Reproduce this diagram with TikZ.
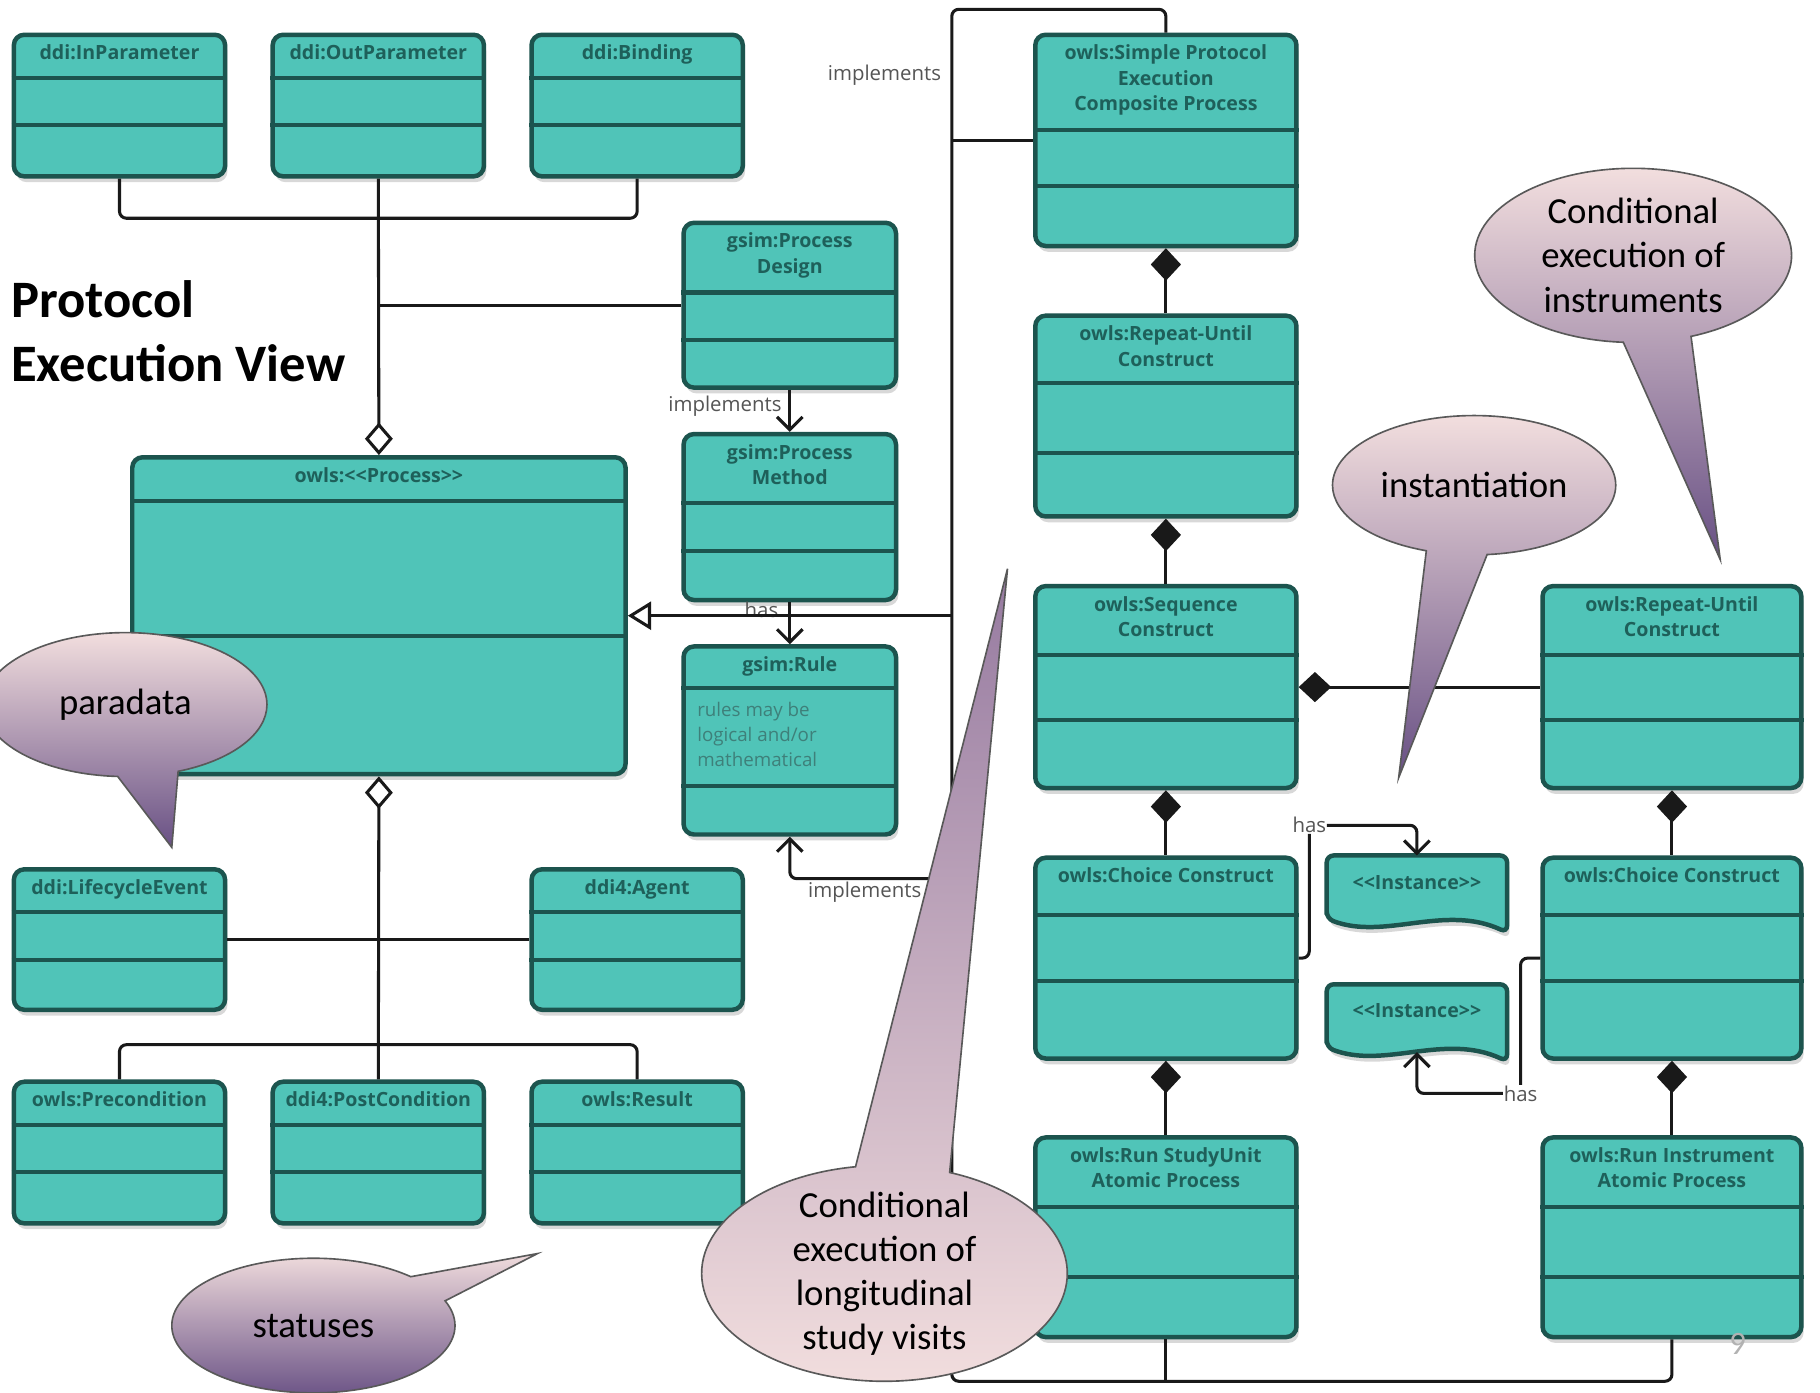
\documentclass[tikz,border=0pt]{standalone}
\usepackage{fontspec}
\setmainfont{Carlito}
\newfontfamily\umlfont{Open Sans}
\usetikzlibrary{arrows.meta,calc,positioning,shadows,shapes.callouts}

\definecolor{umlfill}{RGB}{80,196,184}
\definecolor{umlborder}{RGB}{28,84,78}
\definecolor{umltext}{RGB}{30,96,90}
\definecolor{umlnote}{RGB}{62,128,122}
\definecolor{connblack}{RGB}{25,25,25}
\definecolor{labelgray}{RGB}{85,85,85}
\definecolor{bubblepink}{RGB}{242,222,222}
\definecolor{bubblepurple}{RGB}{104,80,132}
\definecolor{bubblemauve}{RGB}{150,122,160}

\tikzset{
	classnode/.style={draw=umlborder,fill=umlfill,line width=1.1pt,rounded corners=0.09cm,inner sep=0pt,
		drop shadow={opacity=0.3,shadow xshift=0.02cm,shadow yshift=-0.05cm}},
	classsep/.style={draw=umlborder,line width=1pt},
	classtitle/.style={font=\umlfont\bfseries\fontsize{4.8}{6.2}\selectfont,text=umltext,align=center,inner sep=0pt},
	ruletext/.style={font=\umlfont\fontsize{4.6}{6.2}\selectfont,text=umlnote,align=left,inner sep=0pt},
	instnode/.style={minimum width=1.54cm,minimum height=0.65cm,inner sep=0pt},
	instshape/.style={draw=umlborder,fill=umlfill,line width=1.1pt,rounded corners=0.06cm,
		drop shadow={opacity=0.3,shadow xshift=0.02cm,shadow yshift=-0.05cm}},
	conn/.style={draw=connblack,line width=0.75pt,rounded corners=0.06cm},
	compose/.style={conn,{Diamond[length=0.28cm,width=0.26cm]}-},
	aggregate/.style={conn,{Diamond[fill=white,length=0.28cm,width=0.24cm]}-},
	implarrow/.style={conn,-{Straight Barb[length=0.11cm,width=0.22cm]}},
	inherit/.style={conn,-{Triangle[open,fill=white,length=0.2cm,width=0.24cm]}},
	connlabel/.style={font=\umlfont\fontsize{5}{6}\selectfont,text=labelgray,inner sep=0pt},
	bubble/.style={ellipse callout,draw=gray!70!black,line width=0.4pt,inner sep=0pt,callout pointer arc=25,
		top color=bubblepink,bottom color=bubblepurple},
	bubbletext/.style={font=\fontsize{9}{10.8}\selectfont,align=center,text=black,inner sep=0pt},
	viewtitle/.style={font=\bfseries\fontsize{12.9}{15.6}\selectfont,align=left,inner sep=0pt},
	pagenum/.style={font=\fontsize{8}{9}\selectfont,text=black!30,inner sep=0pt}
}

% name, x, y (north west), width, height, separators, title
\newcommand{\classbox}[8]{%
	\node[classnode,minimum width=#4cm,minimum height=#5cm,anchor=north west] (#1) at (#2,#3) {};
	\draw[classsep] ([yshift=-#6cm]#1.north west) -- ([yshift=-#6cm]#1.north east);
	\draw[classsep] ([yshift=-#7cm]#1.north west) -- ([yshift=-#7cm]#1.north east);
	\node[classtitle,anchor=north] (#1-t) at ([yshift=-0.10cm]#1.north) {#8};
}

% name, x, y (north west)
\newcommand{\instbox}[3]{%
	\node[instnode,anchor=north west] (#1) at (#2,#3) {};
	\draw[instshape] ([yshift=0.12cm]#1.south west) -- (#1.north west) -- (#1.north east) -- (#1.south east)
		.. controls ($(#1.south east)+(-0.54,0.25)$) and ($(#1.south west)+(0.5,-0.07)$) .. ([yshift=0.12cm]#1.south west) -- cycle;
	\node[classtitle] (#1-t) at ([yshift=-0.23cm]#1.north) {<{}<Instance>{}>};
}

\begin{document}
\begin{tikzpicture}
	\fill[white] (0,0) rectangle (15.68,-12);
	\useasboundingbox (0,0) rectangle (15.68,-12);

	% left part
	\classbox{inparam}{0.10}{-0.28}{1.82}{1.22}{0.39}{0.80}{ddi:InParameter}
	\classbox{outparam}{2.33}{-0.28}{1.82}{1.22}{0.39}{0.80}{ddi:OutParameter}
	\classbox{binding}{4.56}{-0.28}{1.82}{1.22}{0.39}{0.80}{ddi:Binding}
	\classbox{design}{5.87}{-1.90}{1.83}{1.42}{0.62}{1.03}{gsim:Process\\Design}
	\classbox{method}{5.87}{-3.72}{1.83}{1.43}{0.61}{1.03}{gsim:Process\\Method}
	\classbox{rule}{5.87}{-5.55}{1.83}{1.62}{0.38}{1.22}{gsim:Rule}
	\node[ruletext,anchor=north west] (rule-body) at ([xshift=0.13cm,yshift=-0.49cm]rule.north west) {rules may be\\logical and/or\\mathematical};
	\classbox{process}{1.12}{-3.92}{4.25}{2.73}{0.40}{1.56}{owls:<{}<Process>{}>}
	\classbox{lifecycle}{0.10}{-7.47}{1.82}{1.21}{0.39}{0.80}{ddi:LifecycleEvent}
	\classbox{agent}{4.56}{-7.47}{1.82}{1.21}{0.39}{0.80}{ddi4:Agent}
	\classbox{precond}{0.10}{-9.30}{1.82}{1.22}{0.39}{0.80}{owls:Precondition}
	\classbox{postcond}{2.33}{-9.30}{1.82}{1.22}{0.39}{0.80}{ddi4:PostCondition}
	\classbox{result}{4.56}{-9.30}{1.82}{1.22}{0.39}{0.80}{owls:Result}

	% right part
	\classbox{simple}{8.90}{-0.28}{2.25}{1.82}{0.84}{1.32}{owls:Simple Protocol\\Execution\\Composite Process}
	\classbox{repeata}{8.90}{-2.70}{2.25}{1.73}{0.60}{1.20}{owls:Repeat-Until\\Construct}
	\classbox{seq}{8.90}{-5.03}{2.25}{1.74}{0.61}{1.17}{owls:Sequence\\Construct}
	\classbox{choicea}{8.90}{-7.37}{2.25}{1.73}{0.51}{1.08}{owls:Choice Construct}
	\classbox{runstudy}{8.90}{-9.78}{2.25}{1.72}{0.62}{1.22}{owls:Run StudyUnit\\Atomic Process}
	\classbox{repeatb}{13.27}{-5.03}{2.23}{1.74}{0.61}{1.17}{owls:Repeat-Until\\Construct}
	\classbox{choiceb}{13.27}{-7.37}{2.23}{1.73}{0.51}{1.08}{owls:Choice Construct}
	\classbox{runinstr}{13.27}{-9.78}{2.23}{1.72}{0.62}{1.22}{owls:Run Instrument\\Atomic Process}
	\instbox{insta}{11.43}{-7.37}
	\instbox{instb}{11.43}{-8.48}

	\node[viewtitle,anchor=north west] (viewtitle) at (0.09,-2.41) {Protocol\\Execution View};

	% labels
	\node[connlabel] (impl-top) at (7.62,-0.65) {implements};
	\node[connlabel,anchor=east] (impl-design) at (6.74,-3.50) {implements};
	\node[connlabel] (has-rule) at (6.56,-5.25) {has};
	\node[connlabel] (impl-rule) at (7.45,-7.69) {implements};
	\node[connlabel] (has-insta) at (11.28,-7.11) {has};
	\node[connlabel] (has-instb) at (13.10,-9.42) {has};

	% connectors, left
	\coordinate (top-bus) at (3.24,-1.88);
	\coordinate (bot-bus) at (3.24,-9.00);
	\draw[conn] (inparam.south) |- (top-bus) -| (binding.south);
	\draw[aggregate] (process.north) -- (outparam.south);
	\draw[conn] (design.west) -- (design.west -| outparam.south);
	\draw[implarrow] (design.south) -- (method.north);
	\draw[implarrow] (method.south) -- (rule.north);
	\draw[aggregate] (process.south) -- (postcond.north);
	\draw[conn] (lifecycle.east) -- (agent.west);
	\draw[conn] (precond.north) |- (bot-bus) -| (result.north);

	% spine
	\coordinate (spine-top) at (8.20,-0.08);
	\coordinate (spine-bot) at (8.20,-11.90);
	\coordinate (impl-rule-c) at (8.20,-7.57);
	\draw[conn] (simple.north) |- (spine-top) -- (spine-bot) -| (runinstr.south);
	\draw[conn] (runstudy.south) -- (runstudy.south |- spine-bot);
	\draw[conn] (simple.west) -- (simple.west -| spine-top);
	\draw[inherit] (process.east -| spine-top) -- (process.east);
	\draw[implarrow] (impl-rule-c) -| (rule.south);

	% connectors, right
	\draw[compose] (simple.south) -- (repeata.north);
	\draw[compose] (repeata.south) -- (seq.north);
	\draw[compose] (seq.south) -- (choicea.north);
	\draw[compose] (choicea.south) -- (runstudy.north);
	\draw[compose] (seq.east) -- (repeatb.west);
	\draw[compose] (repeatb.south) -- (choiceb.north);
	\draw[compose] (choiceb.south) -- (runinstr.north);
	\draw[conn] (choicea.east) -| (has-insta.south);
	\draw[implarrow] (has-insta.east) -| (insta.north);
	\draw[conn] (choiceb.west) -| (has-instb.north);
	\draw[implarrow] (has-instb.west) -| ([yshift=0.08cm]instb.south);

	% callouts
	\node[bubble,minimum width=2.44cm,minimum height=1.24cm,callout absolute pointer={(1.48,-7.30)},
		label={[bubbletext]center:paradata}] (paradata) at (1.08,-6.07) {};
	\node[bubble,minimum width=2.44cm,minimum height=1.16cm,callout absolute pointer={(4.63,-10.80)},
		label={[bubbletext]center:statuses}] (statuses) at (2.70,-11.42) {};
	\node[bubble,minimum width=3.15cm,minimum height=1.86cm,callout pointer arc=30,callout absolute pointer={(8.68,-4.90)},
		top color=bubblemauve,bottom color=bubblepink,
		label={[bubbletext]center:Conditional\\execution of\\longitudinal\\study visits}] (visits) at (7.62,-10.97) {};
	\node[bubble,minimum width=2.44cm,minimum height=1.20cm,callout absolute pointer={(12.05,-6.70)},
		label={[bubbletext]center:instantiation}] (instantiation) at (12.70,-4.18) {};
	\node[bubble,minimum width=2.73cm,minimum height=1.50cm,callout absolute pointer={(14.82,-4.82)},
		label={[bubbletext]center:Conditional\\execution of\\instruments}] (instruments) at (14.07,-2.20) {};

	\node[pagenum] (pagenum) at (14.97,-11.58) {9};
\end{tikzpicture}
\end{document}
